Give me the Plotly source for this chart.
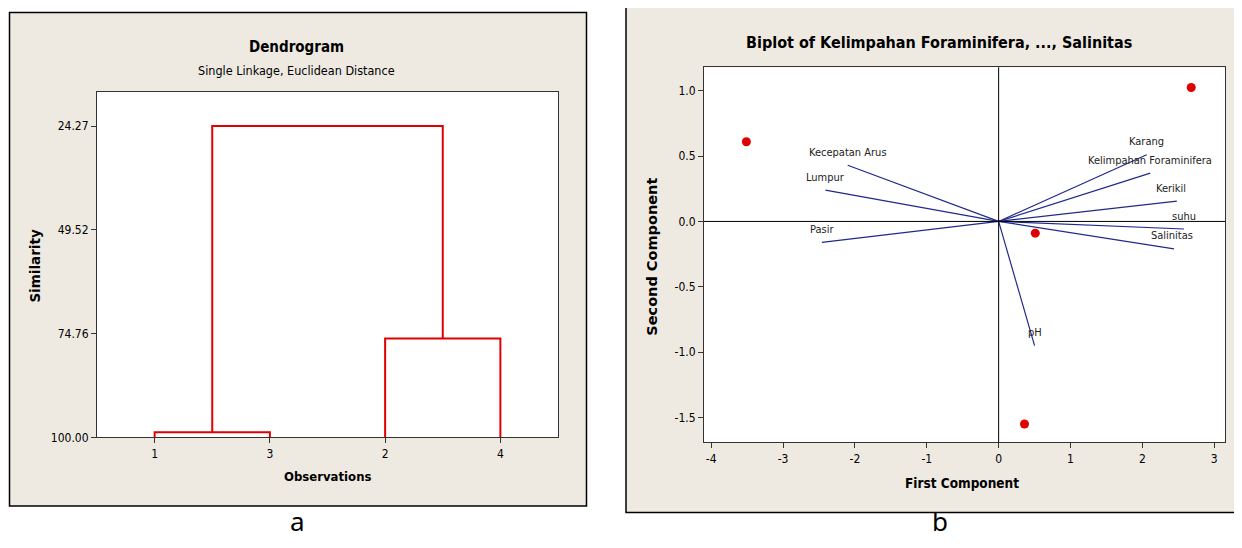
import plotly.graph_objects as go

# ---------------- Data ----------------
# Dendrogram (single linkage, Euclidean distance)
leaf_order = ["1", "3", "2", "4"]
merge_left = ["1", "2", "1+3"]            # clusters joined at each step
merge_right = ["3", "4", "2+4"]
merge_similarity = [98.74, 75.97, 24.27]
sim_ticks = [24.27, 49.52, 74.76, 100.00]

# Biplot scores (observations)
score_pc1 = [2.68, -3.51, 0.51, 0.36]
score_pc2 = [1.025, 0.61, -0.09, -1.55]

# Biplot loading vectors
var_names = ["Kecepatan Arus", "Lumpur", "Pasir", "Karang", "Kelimpahan Foraminifera",
             "Kerikil", "suhu", "Salinitas", "pH"]
var_pc1 = [-2.10, -2.41, -2.46, 2.06, 2.11, 2.48, 2.58, 2.44, 0.50]
var_pc2 = [0.43, 0.24, -0.16, 0.51, 0.37, 0.156, -0.058, -0.21, -0.95]
bi_xticks = [-4, -3, -2, -1, 0, 1, 2, 3]
bi_yticks = [1.0, 0.5, 0.0, -0.5, -1.0, -1.5]

# ---------------- Layout helpers ----------------
OFF = 8                     # page body margin
W, H = 1242 - OFF, 548 - OFF
def px(x): return (x - OFF) / W
def py(y): return 1 - (y - OFF) / H

FONT = "Liberation Sans Narrow, Arial Narrow, DejaVu Sans Condensed, sans-serif"
BEIGE = "#EEEAE2"
RED = "#E00000"
NAVY = "#1F2A8A"

fig = go.Figure()

# ---------------- Dendrogram traces ----------------
pos = {k: i + 1 for i, k in enumerate(leaf_order)}
height = {k: 100.0 for k in leaf_order}
for a, b, s in zip(merge_left, merge_right, merge_similarity):
    xa, xb = pos[a], pos[b]
    ha, hb = height[a], height[b]
    fig.add_trace(go.Scatter(
        x=[xa, xa, xb, xb], y=[ha, s, s, hb], mode="lines",
        line=dict(color=RED, width=2), xaxis="x", yaxis="y",
        hoverinfo="skip", showlegend=False))
    pos[f"{a}+{b}"] = (xa + xb) / 2
    height[f"{a}+{b}"] = s

# ---------------- Biplot traces ----------------
for name, vx, vy in zip(var_names, var_pc1, var_pc2):
    fig.add_trace(go.Scatter(
        x=[0, vx], y=[0, vy], mode="lines", line=dict(color=NAVY, width=1.2),
        xaxis="x2", yaxis="y2", hoverinfo="skip", showlegend=False))

fig.add_trace(go.Scatter(
    x=score_pc1, y=score_pc2, mode="markers",
    marker=dict(color=RED, size=9), xaxis="x2", yaxis="y2",
    hoverinfo="skip", showlegend=False))

label_xshift = {"Kerikil": -6, "Salinitas": -2}
annotations = []
for name, vx, vy in zip(var_names, var_pc1, var_pc2):
    annotations.append(dict(
        x=vx, y=vy, xref="x2", yref="y2", text=name, showarrow=False,
        xanchor="center", yanchor="middle",
        yshift=13, xshift=label_xshift.get(name, 0),
        font=dict(family="DejaVu Sans Condensed, sans-serif", size=11, color="#222222")))

def txt(text, x, y, size, family=FONT, angle=0, yanchor="middle"):
    return dict(text=text, x=px(x), y=py(y), xref="paper", yref="paper",
                showarrow=False, xanchor="center", yanchor=yanchor, textangle=angle,
                font=dict(family=family, size=size, color="black"))

# ---------------- Titles / captions ----------------
annotations += [
    txt("<b>Dendrogram</b>", 296, 48, 15),
    txt("Single Linkage, Euclidean Distance", 296, 71, 12.5),
    txt("<b>Observations</b>", 327, 483, 13),
    txt("<b>Similarity</b>", 35, 269, 13.5, family="DejaVu Sans, sans-serif", angle=-90),
    txt("<b>Biplot of Kelimpahan Foraminifera, ..., Salinitas</b>", 939, 43, 16),
    txt("<b>First Component</b>", 962, 489, 13.5),
    txt("<b>Second Component</b>", 652, 260, 14.5, family="DejaVu Sans, sans-serif", angle=-90),
    txt("a", 297, 547.5, 26, family="Noto Sans, sans-serif", yanchor="bottom"),
    txt("b", 940, 547.5, 26, family="Noto Sans, sans-serif", yanchor="bottom"),
]

# ---------------- Frames ----------------
def rect(x0, y0, x1, y1, fill, line_w, line_c="black"):
    return dict(type="rect", xref="paper", yref="paper", x0=px(x0), x1=px(x1),
                y0=py(y1), y1=py(y0), fillcolor=fill,
                line=dict(color=line_c, width=line_w), layer="below")

shapes = [
    rect(9.5, 12.5, 586.5, 512.5, BEIGE, 1.5),
    rect(626, 5.5, 1238, 519, BEIGE, 1.5),
    rect(97, 93, 558, 443, "white", 0, "white"),
    rect(704, 68, 1225, 448, "white", 0, "white"),
    # reference lines at zero in biplot
    dict(type="line", xref="x2", yref="y2 domain", x0=0, x1=0, y0=0, y1=1,
         line=dict(color="black", width=1)),
    dict(type="line", xref="x2 domain", yref="y2", x0=0, x1=1, y0=0, y1=0,
         line=dict(color="black", width=1)),
]

tickfont = dict(family=FONT, size=12, color="black")
axcommon = dict(showgrid=False, zeroline=False, showline=True, linecolor="#333333",
                linewidth=1, mirror=True, ticks="outside", ticklen=5, tickcolor="#333333",
                tickfont=tickfont)

fig.update_layout(
    width=W, height=H, margin=dict(l=0, r=0, t=0, b=0),
    paper_bgcolor="white", plot_bgcolor="rgba(0,0,0,0)", showlegend=False,
    annotations=annotations, shapes=shapes,
    xaxis=dict(domain=[px(97), px(558)], anchor="y", range=[0.5, 4.5],
               tickvals=[1, 2, 3, 4], ticktext=leaf_order, **axcommon),
    yaxis=dict(domain=[py(443), py(93)], anchor="x", range=[100, 15.95],
               tickvals=sim_ticks, ticktext=[f"{v:.2f}" for v in sim_ticks], **axcommon),
    xaxis2=dict(domain=[px(704), px(1225)], anchor="y2", range=[-4.1, 3.15],
                tickvals=bi_xticks, ticktext=[str(v) for v in bi_xticks], **axcommon),
    yaxis2=dict(domain=[py(448), py(68)], anchor="x2", range=[-1.69, 1.18],
                tickvals=bi_yticks, ticktext=[f"{v:.1f}" for v in bi_yticks], **axcommon),
)

fig.write_html("out.html")
